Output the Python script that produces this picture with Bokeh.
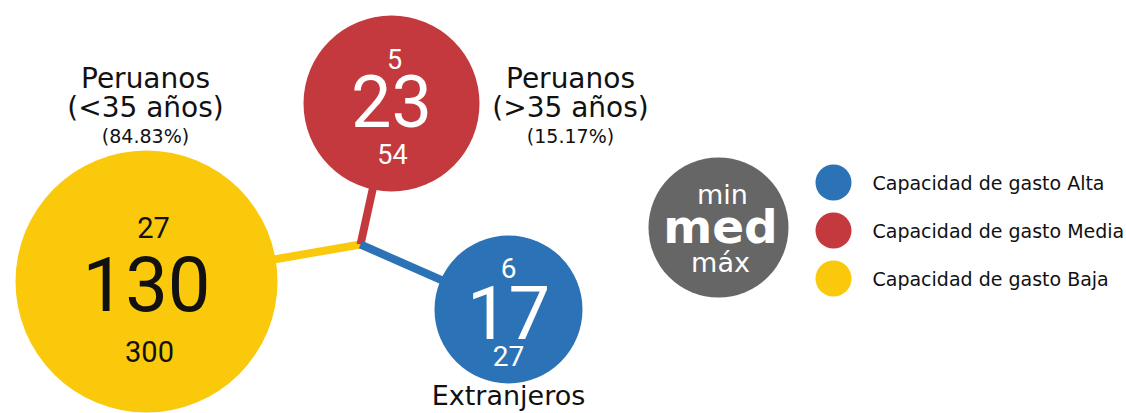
from bokeh.plotting import figure
from bokeh.models import Range1d
from bokeh.core.properties import value
from bokeh.embed import file_html
from bokeh.resources import INLINE

# ---- data ----
groups = ["Peruanos (<35 años)", "Peruanos (>35 años)", "Extranjeros"]
name_lines = [["Peruanos", "(<35 años)"], ["Peruanos", "(>35 años)"], ["Extranjeros"]]
shares = ["(84.83%)", "(15.17%)", None]
mins = [27, 5, 6]
meds = [130, 23, 17]
maxs = [300, 54, 27]
colors = ["#FAC90B", "#C4393D", "#2B73B6"]
legend_labels = ["Capacidad de gasto Alta", "Capacidad de gasto Media", "Capacidad de gasto Baja"]
legend_colors = ["#2B73B6", "#C4393D", "#FAC90B"]
key_labels = ["min", "med", "máx"]

# ---- layout (pixel space) ----
cx = [146, 391, 508]
cy = [281, 103, 309]
rad = [131, 88, 74]
hub = (360, 244)
med_size = ["76px", "72px", "74px"]
small_size = ["29px", "27px", "28px"]
small_dx = [7, 3, 0]
small_dy = [-54, -45, -42]
big_dy = [2, -3, 3]
small_dy2 = [70, 50, 46]
text_col = ["#111111", "white", "white"]

W, H = 1126, 413
p = figure(width=W, height=H, output_backend="svg", toolbar_location=None,
           x_range=Range1d(0, W), y_range=Range1d(H, 0),
           min_border=0, outline_line_color=None)
p.axis.visible = False
p.grid.visible = False
p.background_fill_color = "white"
p.border_fill_color = "white"

# connectors
for i in range(3):
    p.line([hub[0], cx[i]], [hub[1], cy[i]], line_color=colors[i], line_width=8, line_cap="butt")

# bubbles
p.circle(x=cx, y=cy, radius=rad, fill_color=colors, line_color=None)

FN = value("Roboto")
FL = value("DejaVu Sans")
for i in range(3):
    p.text(x=[cx[i] + small_dx[i]], y=[cy[i] + small_dy[i]], text=[str(mins[i])], text_align="center",
           text_baseline="middle", text_font=FN, text_font_size=small_size[i], text_color=text_col[i])
    p.text(x=[cx[i]], y=[cy[i] + big_dy[i]], text=[str(meds[i])], text_align="center",
           text_baseline="middle", text_font=FN, text_font_size=med_size[i], text_color=text_col[i])
    p.text(x=[cx[i] + small_dx[i] // 2], y=[cy[i] + small_dy2[i]], text=[str(maxs[i])], text_align="center",
           text_baseline="middle", text_font=FN, text_font_size=small_size[i], text_color=text_col[i])

# group labels
label_pos = [(145, 78), (570, 78), (508, 395)]
label_size = ["28px", "28px", "27px"]
for i in range(3):
    lx, ly = label_pos[i]
    for j, t in enumerate(name_lines[i]):
        p.text(x=[lx], y=[ly + 29 * j], text=[t], text_align="center", text_baseline="middle",
               text_font=FL, text_font_size=label_size[i], text_color="#111111")
    if shares[i]:
        p.text(x=[lx], y=[ly + 57], text=[shares[i]], text_align="center", text_baseline="middle",
               text_font=FL, text_font_size="19px", text_color="#111111")

# key circle
p.circle(x=[718], y=[227], radius=70, fill_color="#666666", line_color=None)
p.text(x=[722], y=[194], text=[key_labels[0]], text_align="center", text_baseline="middle",
       text_font=FL, text_font_size="27px", text_color="white")
p.text(x=[720], y=[226], text=[key_labels[1]], text_align="center", text_baseline="middle",
       text_font=FL, text_font_size="47px", text_font_style="bold", text_color="white")
p.text(x=[720], y=[262], text=[key_labels[2]], text_align="center", text_baseline="middle",
       text_font=FL, text_font_size="27px", text_color="white")

# legend
ly = [182, 230, 278]
p.circle(x=[833] * 3, y=ly, radius=18, fill_color=legend_colors, line_color=None)
p.text(x=[872] * 3, y=ly, text=legend_labels, text_align="left", text_baseline="middle",
       text_font=FL, text_font_size="19px", text_color="#111111")

open("out.html", "w").write(file_html(p, INLINE))
